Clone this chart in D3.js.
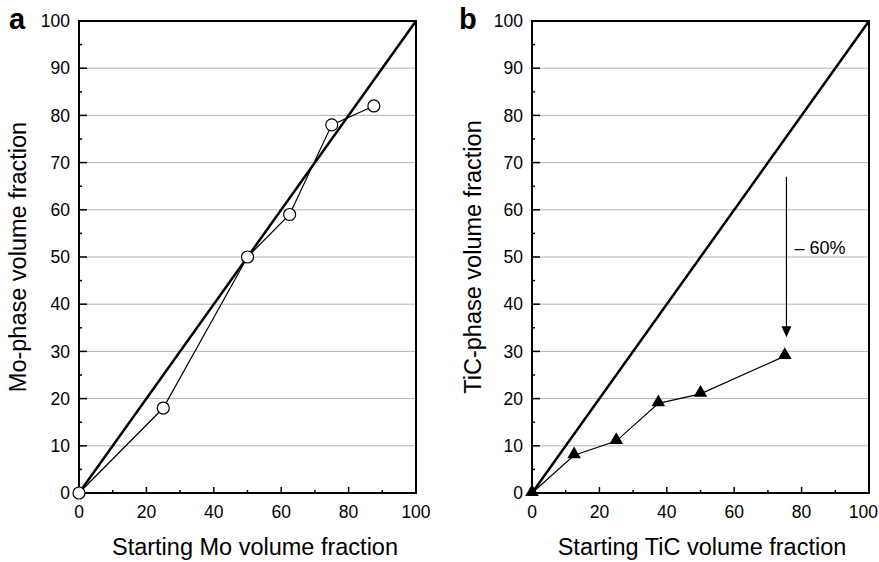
<!DOCTYPE html>
<html>
<head>
<meta charset="utf-8">
<script src="https://cdn.jsdelivr.net/npm/d3@7"></script>
<style>
  body { margin: 0; background: #fff; }
  text { font-family: Arial, "Liberation Sans", sans-serif; fill: #000; }
</style>
</head>
<body>
<div id="chart"></div>
<script>
// panel a: Mo
const moStart = [0, 25, 50, 62.5, 75, 87.5];
const moPhase = [0, 18, 50, 59, 78, 82];
// panel b: TiC
const ticStart = [0, 12.5, 25, 37.5, 50, 75];
const ticPhase = [0, 8, 11, 19, 21, 29];

const xTicks = [0, 20, 40, 60, 80, 100];
const yTicks = [0, 10, 20, 30, 40, 50, 60, 70, 80, 90, 100];

const arrowX = 75.5, arrowFrom = 67, arrowTo = 33;
const arrowLabel = '– 60%';

const W = 879, H = 562;
const svg = d3.select('#chart').append('svg')
  .attr('width', W)
  .attr('height', H);

function drawPanel(cfg) {
  const x = d3.scaleLinear().domain([0, 100]).range([cfg.left, cfg.left + 337]);
  const y = d3.scaleLinear().domain([0, 100]).range([493, 21]);
  const g = svg.append('g');

  // grid
  g.selectAll('.grid').data(yTicks.filter(d => d > 0 && d < 100)).enter()
    .append('line')
    .attr('x1', x(0)).attr('x2', x(100))
    .attr('y1', d => y(d)).attr('y2', d => y(d))
    .attr('stroke', '#b4b4b4').attr('stroke-width', 1);

  // minor/major ticks (inward)
  g.selectAll('.ytick').data(d3.range(0, 101, 5)).enter()
    .append('line')
    .attr('x1', x(0)).attr('x2', d => x(0) + (d % 10 === 0 ? 8 : 3))
    .attr('y1', d => y(d)).attr('y2', d => y(d))
    .attr('stroke', '#000').attr('stroke-width', 1.5);
  g.selectAll('.xtick').data(d3.range(0, 101, 10)).enter()
    .append('line')
    .attr('x1', d => x(d)).attr('x2', d => x(d))
    .attr('y1', y(0)).attr('y2', d => y(0) - (d % 20 === 0 ? 6 : 3))
    .attr('stroke', '#000').attr('stroke-width', 1.5);

  // frame
  g.append('rect')
    .attr('x', x(0)).attr('y', y(100))
    .attr('width', x(100) - x(0)).attr('height', y(0) - y(100))
    .attr('fill', 'none').attr('stroke', '#000').attr('stroke-width', 2);

  // tick labels
  g.selectAll('.ylab').data(yTicks).enter()
    .append('text')
    .attr('x', x(0) - 9).attr('y', d => y(d))
    .attr('dy', '0.35em').attr('text-anchor', 'end')
    .attr('font-size', 17.5).text(d => d);
  g.selectAll('.xlab').data(xTicks).enter()
    .append('text')
    .attr('x', d => x(d)).attr('y', y(0) + 25)
    .attr('text-anchor', 'middle')
    .attr('font-size', 17.5).text(d => d)
    .each(function () {
      // keep the last label inside the window
      const w = this.getComputedTextLength();
      const cx = +d3.select(this).attr('x');
      if (cx + w / 2 > W - 1) d3.select(this).attr('x', W - 1 - w / 2);
    });

  // titles
  g.append('text')
    .attr('x', cfg.xTitleX).attr('y', 555)
    .attr('text-anchor', 'middle').attr('font-size', 23.5)
    .text(cfg.xTitle);
  g.append('text')
    .attr('transform', `translate(${cfg.yTitleX},${(y(0) + y(100)) / 2}) rotate(-90)`)
    .attr('text-anchor', 'middle').attr('font-size', 23.5)
    .text(cfg.yTitle);
  g.append('text')
    .attr('x', cfg.letterX).attr('y', 29)
    .attr('font-size', 29).attr('font-weight', 'bold')
    .text(cfg.letter);

  // 1:1 line
  g.append('line')
    .attr('x1', x(0)).attr('y1', y(0)).attr('x2', x(100)).attr('y2', y(100))
    .attr('stroke', '#000').attr('stroke-width', 2.5);

  const pts = cfg.xs.map((v, i) => [v, cfg.ys[i]]);
  g.append('path')
    .datum(pts)
    .attr('fill', 'none').attr('stroke', '#000').attr('stroke-width', 1.2)
    .attr('d', d3.line().x(d => x(d[0])).y(d => y(d[1])));

  return { g, x, y, pts };
}

const a = drawPanel({
  left: 79, letter: 'a', letterX: 9, xTitleX: 255, yTitleX: 26,
  xTitle: 'Starting Mo volume fraction', yTitle: 'Mo-phase volume fraction',
  xs: moStart, ys: moPhase
});
a.g.selectAll('.pt').data(a.pts).enter()
  .append('circle')
  .attr('cx', d => a.x(d[0])).attr('cy', d => a.y(d[1]))
  .attr('r', 6)
  .attr('fill', '#fff').attr('stroke', '#000').attr('stroke-width', 1.2);

const b = drawPanel({
  left: 532, letter: 'b', letterX: 459, xTitleX: 702, yTitleX: 481,
  xTitle: 'Starting TiC volume fraction', yTitle: 'TiC-phase volume fraction',
  xs: ticStart, ys: ticPhase
});
b.g.selectAll('.pt').data(b.pts).enter()
  .append('path')
  .attr('transform', d => `translate(${b.x(d[0])},${b.y(d[1]) - 1})`)
  .attr('d', d3.symbol(d3.symbolTriangle, 80))
  .attr('fill', '#000');

// arrow
b.g.append('line')
  .attr('x1', b.x(arrowX)).attr('x2', b.x(arrowX))
  .attr('y1', b.y(arrowFrom)).attr('y2', b.y(arrowTo) - 8)
  .attr('stroke', '#000').attr('stroke-width', 1.2);
b.g.append('path')
  .attr('d', `M${b.x(arrowX) - 5},${b.y(arrowTo) - 11} L${b.x(arrowX) + 5},${b.y(arrowTo) - 11} L${b.x(arrowX)},${b.y(arrowTo)} Z`)
  .attr('fill', '#000');
b.g.append('text')
  .attr('x', b.x(arrowX) + 8).attr('y', b.y(52))
  .attr('dy', '0.35em').attr('font-size', 18)
  .text(arrowLabel);
</script>
</body>
</html>
